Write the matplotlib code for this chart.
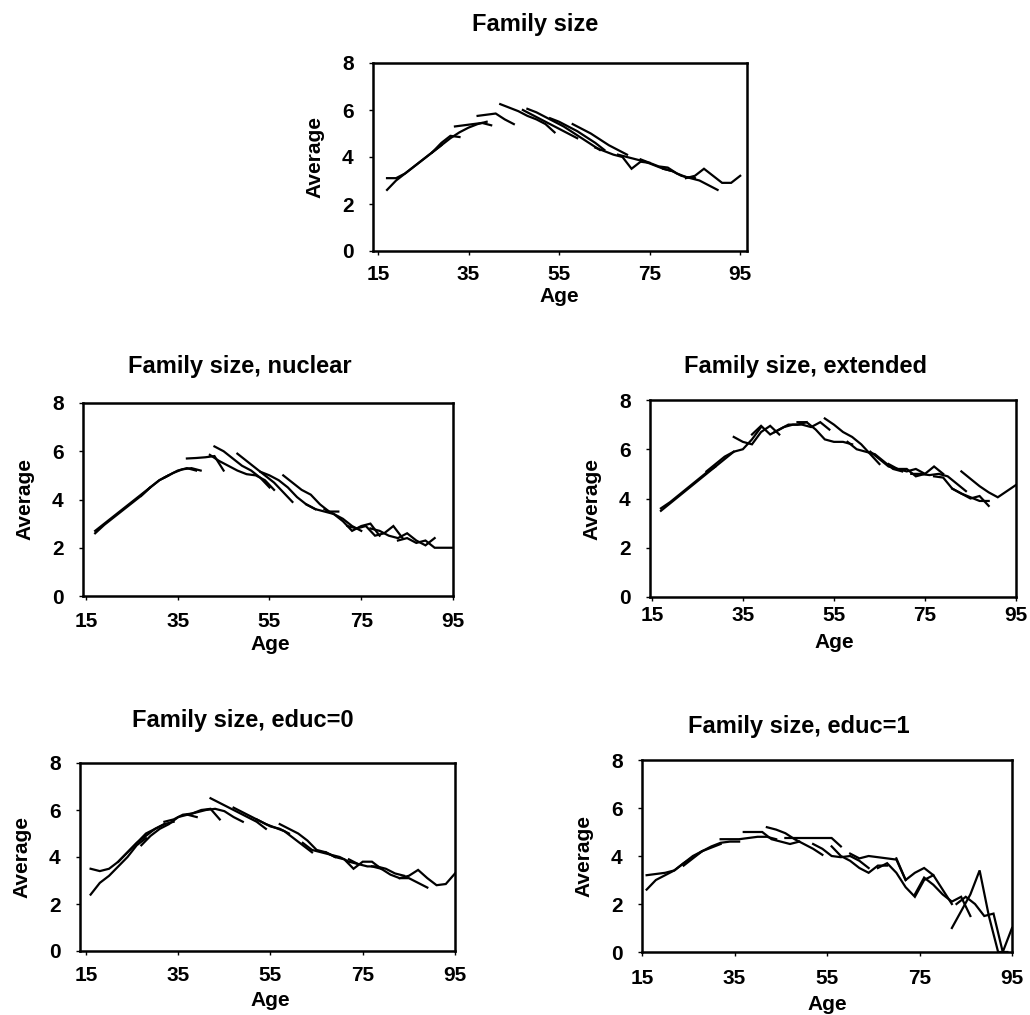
import numpy as np
import matplotlib
matplotlib.use('Agg')
import matplotlib.pyplot as plt

## {{{                          --     data     --
# each cohort: start age, then average family size every 2 years of age
AGE_STEP = 2

all_starts = [17, 17, 27, 32, 37, 42, 47, 48, 53, 58, 63, 68, 73, 78, 83]
all_vals = [
    [2.6, 3.0, 3.3, 3.6, 3.9, 4.2, 4.5],
    [3.1, 3.1, 3.3, 3.6, 3.9, 4.2, 4.6, 4.9, 4.85],
    [4.2, 4.5, 4.8, 5.05, 5.25, 5.4, 5.5],
    [5.3, 5.35, 5.4, 5.45, 5.35],
    [5.75, 5.8, 5.85, 5.6, 5.4],
    [6.25, 6.1, 5.95, 5.75, 5.6, 5.4, 5.05],
    [6.0, 5.8, 5.6, 5.4, 5.2, 5.0, 4.8],
    [6.05, 5.9, 5.7, 5.5, 5.3, 5.05, 4.8, 4.55, 4.3],
    [5.65, 5.5, 5.3, 5.1, 4.85, 4.6, 4.3],
    [5.4, 5.2, 5.0, 4.75, 4.5, 4.3, 4.1],
    [4.4, 4.25, 4.1, 4.0, 3.5, 3.8, 3.75],
    [4.1, 4.0, 3.9, 3.8, 3.65, 3.5, 3.4],
    [3.9, 3.75, 3.6, 3.55, 3.3, 3.15, 3.1],
    [3.5, 3.4, 3.2, 3.1, 3.0, 2.8, 2.6],
    [3.1, 3.2, 3.5, 3.2, 2.9, 2.9, 3.2],
]

nuclear_starts = [17, 17, 27, 32, 37, 42, 43, 48, 53, 58, 63, 67, 72, 77, 83]
nuclear_vals = [
    [2.7, 3.0, 3.3, 3.6, 3.9, 4.2, 4.5],
    [2.6, 2.95, 3.25, 3.55, 3.85, 4.15, 4.5, 4.8, 5.0],
    [4.15, 4.5, 4.8, 5.0, 5.2, 5.3, 5.2],
    [4.9, 5.1, 5.25, 5.3, 5.2],
    [5.7, 5.72, 5.75, 5.8, 5.2],
    [5.85, 5.6, 5.4, 5.2, 5.05, 5.0, 4.8, 4.4],
    [6.2, 6.0, 5.7, 5.4, 5.2, 4.9, 4.5],
    [5.9, 5.6, 5.3, 5.0, 4.7, 4.3, 3.9],
    [5.15, 5.0, 4.8, 4.5, 4.1, 3.8, 3.6],
    [5.0, 4.7, 4.4, 4.2, 3.8, 3.5, 3.5],
    [3.8, 3.6, 3.5, 3.4, 3.2, 2.9, 2.7],
    [3.6, 3.4, 3.1, 2.7, 2.9, 3.0, 2.5],
    [2.9, 2.8, 2.9, 2.5, 2.6, 2.9, 2.4],
    [2.8, 2.7, 2.5, 2.4, 2.6, 2.3, 2.1, 2.4],
    [2.3, 2.4, 2.2, 2.3, 2.0, 2.0, 2.0],
]

extended_starts = [17, 17, 27, 33, 37, 42, 47, 53, 58, 63, 67, 72, 77, 81, 83]
extended_vals = [
    [3.5, 3.8, 4.1, 4.4, 4.7, 5.0, 5.3],
    [3.6, 3.85, 4.15, 4.45, 4.75, 5.05, 5.3, 5.6, 5.9],
    [5.1, 5.4, 5.7, 5.9, 6.0, 6.4, 6.9],
    [6.5, 6.3, 6.2, 6.7, 6.95, 6.6],
    [6.6, 6.95, 6.6, 6.8, 7.0, 7.0, 7.1],
    [6.7, 6.9, 7.0, 7.0, 6.9, 7.1, 6.8],
    [7.1, 7.1, 6.8, 6.4, 6.3, 6.3, 6.2],
    [7.25, 7.0, 6.7, 6.5, 6.2, 5.8, 5.4],
    [6.3, 6.0, 5.9, 5.8, 5.5, 5.2, 5.1],
    [5.9, 5.6, 5.3, 5.2, 5.1, 5.2, 5.0],
    [5.4, 5.2, 5.2, 4.9, 5.0, 5.3, 5.0],
    [5.0, 5.0, 4.95, 5.0, 4.9, 4.6, 4.3],
    [4.9, 4.85, 4.4, 4.2, 4.0, 4.1, 3.7],
    [4.4, 4.2, 4.05, 3.9, 3.9],
    [5.1, 4.8, 4.5, 4.25, 4.05, 4.3, 4.55],
]

educ0_starts = [16, 16, 22, 27, 32, 37, 42, 47, 52, 57, 62, 67, 72, 77, 83]
educ0_vals = [
    [2.4, 2.9, 3.2, 3.6, 4.0, 4.5, 4.8],
    [3.5, 3.4, 3.5, 3.8, 4.2, 4.6, 5.0, 5.2, 5.4],
    [3.8, 4.2, 4.6, 4.9, 5.2, 5.4, 5.5],
    [4.5, 4.9, 5.2, 5.4, 5.7, 5.8, 5.7],
    [5.5, 5.6, 5.8, 5.85, 6.0, 6.05, 5.6],
    [5.8, 5.9, 6.0, 6.05, 5.95, 5.7, 5.5],
    [6.5, 6.3, 6.1, 5.9, 5.7, 5.5, 5.2],
    [6.1, 5.9, 5.7, 5.5, 5.3, 5.2, 5.0],
    [5.6, 5.4, 5.25, 5.1, 4.8, 4.5, 4.2],
    [5.4, 5.2, 5.0, 4.7, 4.3, 4.2, 4.0],
    [4.6, 4.3, 4.2, 4.1, 4.0, 3.8, 3.7],
    [4.2, 4.0, 3.9, 3.5, 3.8, 3.8, 3.5],
    [3.9, 3.7, 3.6, 3.6, 3.5, 3.3, 3.2],
    [3.6, 3.5, 3.25, 3.1, 3.1, 2.9, 2.7],
    [3.1, 3.2, 3.45, 3.1, 2.8, 2.85, 3.3],
]

educ1_starts = [16, 16, 24, 32, 37, 42, 46, 52, 56, 60, 66, 70, 74, 82, 83]
educ1_vals = [
    [2.6, 3.0, 3.2, 3.4, 3.7, 4.0, 4.2],
    [3.2, 3.25, 3.3, 3.4, 3.7, 3.95, 4.2, 4.35, 4.5],
    [3.6, 3.9, 4.2, 4.4, 4.55, 4.6, 4.6],
    [4.7, 4.7, 4.7, 4.75, 4.8, 4.8, 4.7],
    [5.0, 5.0, 5.0, 4.7, 4.6, 4.5, 4.6],
    [5.2, 5.1, 4.95, 4.7, 4.5, 4.3, 4.05],
    [4.75, 4.75, 4.75, 4.75, 4.75, 4.75, 4.4],
    [4.5, 4.3, 4.0, 3.95, 4.0, 3.8, 3.5],
    [4.4, 4.0, 3.8, 3.5, 3.3, 3.6, 3.6],
    [4.1, 3.9, 4.0, 3.95, 3.9, 3.85, 3.0],
    [3.5, 3.7, 3.3, 2.7, 2.3, 3.0, 3.2],
    [3.9, 3.0, 3.3, 3.5, 3.2, 2.6, 2.0],
    [2.4, 3.1, 2.8, 2.4, 2.1, 2.3, 1.5],
    [1.0, 1.7, 2.4, 3.4, 1.5, 0.0, 0.0],
    [2.0, 2.3, 2.0, 1.5, 1.6, 0.0, 1.0],
]

titles = ['Family size', 'Family size, nuclear', 'Family size, extended',
          'Family size, educ=0', 'Family size, educ=1']
age_ticks = [15, 35, 55, 75, 95]
avg_ticks = [0, 2, 4, 6, 8]

##────────────────────────────────────────────────────────────────────────────}}}

## {{{                          --     layout     --
W, H = 1030, 1015
# axes boxes in pixels: left, top, right, bottom
boxes = [
    (373, 63, 747, 251),
    (83, 403, 453, 596),
    (650, 400, 1016, 597),
    (80, 763, 455, 951),
    (642, 760, 1012, 952),
]
xlims = [(13.9, 96.5), (14.35, 94.6), (14.6, 95.0), (13.7, 95.0), (15.0, 95.0)]
title_pos = [(535, 24), (240, 366), (806, 367), (243, 720), (799, 727)]
xpads = [6.8, 8.5, 3.5, 8.0, 9.0]          # pt, x tick label gap
age_off = [46, 48, 46, 49, 52]            # px below the frame
panels = [
    (all_starts, all_vals),
    (nuclear_starts, nuclear_vals),
    (extended_starts, extended_vals),
    (educ0_starts, educ0_vals),
    (educ1_starts, educ1_vals),
]

plt.rcParams['font.family'] = ['Liberation Sans', 'DejaVu Sans']
plt.rcParams['font.weight'] = 'bold'

fig = plt.figure(figsize=(W / 100, H / 100), dpi=100)

for i, (starts, vals) in enumerate(panels):
    l, t, r, b = boxes[i]
    ax = fig.add_axes([l / W, 1 - b / H, (r - l) / W, (b - t) / H])
    for s, v in zip(starts, vals):
        ages = s + AGE_STEP * np.arange(len(v))
        ax.plot(ages, v, color='black', lw=1.6, solid_joinstyle='miter')
    ax.set_xlim(*xlims[i])
    ax.set_ylim(0, 8)
    ax.set_xticks(age_ticks)
    ax.set_yticks(avg_ticks)
    ax.tick_params(direction='out', length=3, width=1, labelsize=15, color='black')
    ax.tick_params(axis='y', pad=11)
    ax.tick_params(axis='x', pad=xpads[i])
    for lab in ax.get_xticklabels() + ax.get_yticklabels():
        lab.set_fontweight('bold')
    for sp in ax.spines.values():
        sp.set_linewidth(1.8)
        sp.set_color('black')
    pw = r - l
    ph = b - t
    ax.text(-58 / pw, 0.5, 'Average', transform=ax.transAxes, rotation=90,
            ha='center', va='center', fontsize=15, fontweight='bold')
    ax.text((55 - xlims[i][0]) / (xlims[i][1] - xlims[i][0]), -age_off[i] / ph, 'Age',
            transform=ax.transAxes, ha='center', va='center', fontsize=15,
            fontweight='bold')
    tx, ty = title_pos[i]
    fig.text(tx / W, 1 - ty / H, titles[i], ha='center', va='center',
             fontsize=17, fontweight='bold')

fig.savefig('out.png', dpi=100)
##────────────────────────────────────────────────────────────────────────────}}}
